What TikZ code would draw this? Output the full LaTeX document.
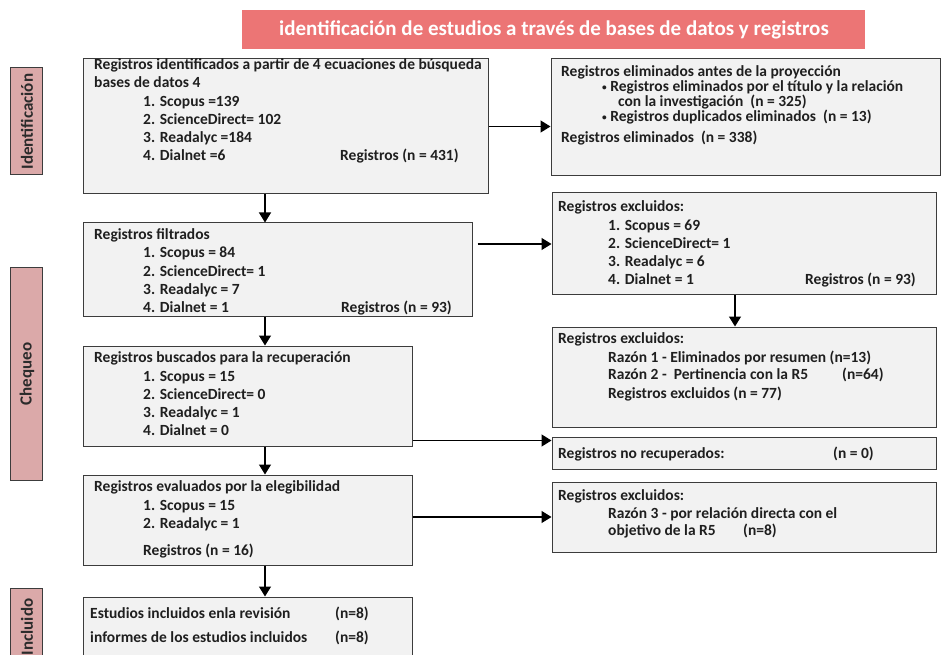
\documentclass[tikz,border=0pt]{standalone}
\usepackage{fontspec}
\setmainfont{Carlito}
\usetikzlibrary{arrows.meta,fit}
\definecolor{titlered}{HTML}{EC7575}
\definecolor{labelpink}{HTML}{DBA9A9}
\definecolor{boxgray}{HTML}{F2F2F2}
\definecolor{edgegray}{HTML}{3C3C3C}
\definecolor{labtext}{HTML}{2B2B2B}
\newcommand\tline[4]{\node[txt] (#1) at (#2,#3) {#4};}
\newcommand\smallbul{\raisebox{1.2pt}{\scalebox{0.6}{•}}\hspace{3.5pt}}
\begin{document}
\begin{tikzpicture}[x=1pt,y=-1pt,
  box/.style={draw=edgegray, fill=boxgray, line width=1pt, inner sep=0pt},
  lab/.style={draw=edgegray, fill=labelpink, line width=1pt, inner sep=0pt},
  labtxt/.style={font=\fontsize{17}{19}\selectfont\bfseries, text=labtext, rotate=90, inner sep=0pt},
  txt/.style={font=\fontsize{15.5}{18}\selectfont\bfseries, text=black!88, inner sep=0pt, anchor=base west},
  arr/.style={draw=black, line width=1.3pt, -{Triangle[length=10pt,width=12pt]}},
]
\useasboundingbox (0,0) rectangle (943,655);
\clip (0,0) rectangle (943,655);
\fill[white] (0,0) rectangle (943,655);

% title
\node[fill=titlered, inner sep=0pt, fit={(242,10) (865,49)}] (title) {};
\node[font=\fontsize{21}{24}\selectfont\bfseries, text=white, inner sep=0pt] (titletxt) at ([xshift=0.5pt]title.center) {identificación de estudios a través de bases de datos y registros};

% phase labels
\node[lab, fit={(10,68) (42,175)}] (labid) {};
\node[labtxt] (labidt) at ([xshift=1pt]labid.center) {Identificación};
\node[lab, fit={(10,268) (42,480)}] (labch) {};
\node[labtxt] (labcht) at ([xshift=1pt]labch.center) {Chequeo};
\node[lab, fit={(10,588) (42,670)}] (labin) {};
\node[labtxt] (labint) at (27,627) {Incluido};

% left column boxes
\node[box, fit={(83,59) (488,194)}] (b1) {};
\node[box, fit={(83,223) (472,316)}] (b2) {};
\node[box, fit={(83,346) (412,446)}] (b3) {};
\node[box, fit={(83,475) (412,565)}] (b4) {};
\node[box, fit={(83,597) (412,670)}] (b5) {};

% right column boxes
\node[box, fit={(551,59) (940,176)}] (r1) {};
\node[box, fit={(552,193) (936,295)}] (r2) {};
\node[box, fit={(552,327) (936,427)}] (r3) {};
\node[box, fit={(552,437) (936,469)}] (r4) {};
\node[box, fit={(552,482) (936,552)}] (r5) {};

% texts b1
\tline{b1a}{94}{70}{Registros identificados a partir de 4 ecuaciones de búsqueda}
\tline{b1b}{94}{88}{bases de datos 4}
\tline{b1c}{143}{106.5}{1. Scopus =139}
\tline{b1d}{143}{124.5}{2. ScienceDirect= 102}
\tline{b1e}{143}{142.5}{3. Readalyc =184}
\tline{b1f}{143}{161}{4. Dialnet =6}
\tline{b1g}{340}{161}{Registros (n = 431)}

% texts b2
\tline{b2a}{94}{240}{Registros filtrados}
\tline{b2b}{143}{258}{1. Scopus = 84}
\tline{b2c}{143}{276.5}{2. ScienceDirect= 1}
\tline{b2d}{143}{294.5}{3. Readalyc = 7}
\tline{b2e}{143}{312.5}{4. Dialnet = 1}
\tline{b2f}{341}{312.5}{Registros (n = 93)}

% texts b3
\tline{b3a}{94}{362}{Registros buscados para la recuperación}
\tline{b3b}{143}{381.5}{1. Scopus = 15}
\tline{b3c}{143}{399.5}{2. ScienceDirect= 0}
\tline{b3d}{143}{417.5}{3. Readalyc = 1}
\tline{b3e}{143}{435.5}{4. Dialnet = 0}

% texts b4
\tline{b4a}{94}{491}{Registros evaluados por la elegibilidad}
\tline{b4b}{143}{510}{1. Scopus = 15}
\tline{b4c}{143}{528}{2. Readalyc = 1}
\tline{b4d}{143}{555}{Registros (n = 16)}

% texts b5
\tline{b5a}{90}{618}{Estudios incluidos enla revisión}
\tline{b5b}{335}{618}{(n=8)}
\tline{b5c}{90}{642}{informes de los estudios incluidos}
\tline{b5d}{335}{642}{(n=8)}

% texts r1
\tline{r1a}{561}{77}{Registros eliminados antes de la proyección}
\tline{r1b}{602}{92}{\smallbul Registros eliminados por el título y la relación}
\tline{r1c}{618}{107}{con la investigación\ \ (n = 325)}
\tline{r1d}{602}{122}{\smallbul Registros duplicados eliminados\ \ (n = 13)}
\tline{r1e}{561}{143}{Registros eliminados\ \ (n = 338)}

% texts r2
\tline{r2a}{558}{212}{Registros excluidos:}
\tline{r2b}{608}{231}{1. Scopus = 69}
\tline{r2c}{608}{248.5}{2. ScienceDirect= 1}
\tline{r2d}{608}{266.5}{3. Readalyc = 6}
\tline{r2e}{608}{284.5}{4. Dialnet = 1}
\tline{r2f}{805}{284.5}{Registros (n = 93)}

% texts r3
\tline{r3a}{558}{343}{Registros excluidos:}
\tline{r3b}{608}{362}{Razón 1 - Eliminados por resumen (n=13)}
\tline{r3c}{608}{379.5}{Razón 2 -\ \ Pertinencia con la R5}
\tline{r3d}{842}{379.5}{(n=64)}
\tline{r3e}{608}{398.5}{Registros excluidos (n = 77)}

% texts r4
\tline{r4a}{558}{458}{Registros no recuperados:}
\tline{r4b}{833}{458}{(n = 0)}

% texts r5
\tline{r5a}{558}{500}{Registros excluidos:}
\tline{r5b}{608}{518}{Razón 3 - por relación directa con el}
\tline{r5c}{608}{535.5}{objetivo de la R5}
\tline{r5d}{743}{535.5}{(n=8)}

% connectors
\coordinate (cx) at (265,0);
\coordinate (rx) at (735,0);
\coordinate (r4in) at ([yshift=-4pt]r4.north west);
\draw[arr] (b1.south -| cx) -- (b2.north -| cx);
\draw[arr] (b2.south -| cx) -- (b3.north -| cx);
\draw[arr] (b3.south -| cx) -- (b4.north -| cx);
\draw[arr] (b4.south -| cx) -- (b5.north -| cx);
\draw[arr] (b1.east) -- (b1.east -| r1.west);
\draw[arr] ([xshift=5pt]b2.east |- r2.west) -- (r2.west);
\draw[arr] (r2.south -| rx) -- (r3.north -| rx);
\draw[arr] (r4in -| b3.east) -- (r4in);
\draw[arr] (r5.west -| b4.east) -- (r5.west);
\end{tikzpicture}
\end{document}
